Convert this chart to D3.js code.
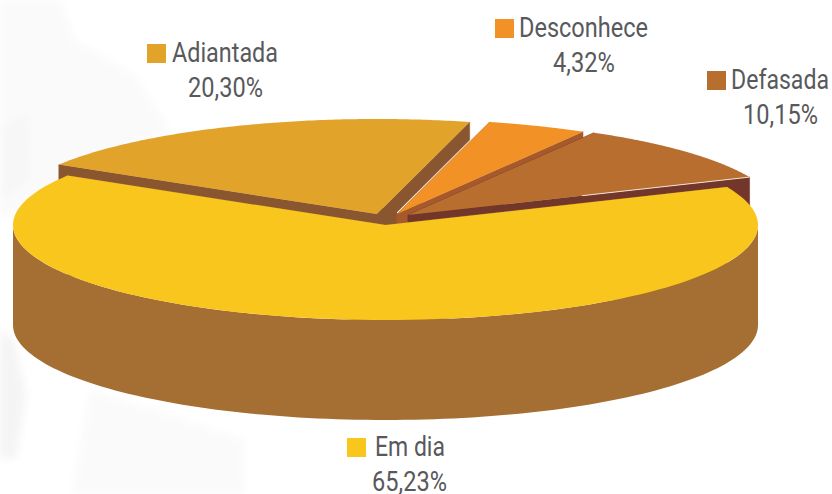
<!DOCTYPE html>
<html>
<head>
<meta charset="utf-8">
<style>
  html, body { margin: 0; padding: 0; background: #fff; }
  svg { display: block; }
  text { font-family: Roboto, sans-serif; fill: #58595b; font-size: 27px; }
</style>
<script src="https://cdn.jsdelivr.net/npm/d3@7"></script>
</head>
<body>
<script>
var categories = ['Em dia', 'Adiantada', 'Desconhece', 'Defasada'];
var values = [65.23, 20.30, 4.32, 10.15];
var valueLabels = ['65,23%', '20,30%', '4,32%', '10,15%'];

var width = 832;
var height = 494;

var topColors = ['#f9c61d', '#e2a32b', '#f29226', '#b86e2f'];
var wallColors = ['#a56f33', '#8a5630', '#a65a2c', '#72372a'];

// where each exploded slice sits, and how deep its wall is
var sliceLayout = [
  { cx: 385.5, cy: 225, depth: 100 },
  { cx: 377, cy: 214, depth: 18 },
  { cx: 397, cy: 214, depth: 13 },
  { cx: 408, cy: 215, depth: 32 }
];

// swatch left/top, label left/width, baseline of the name, percent centre
var legendLayout = [
  { sx: 347, sy: 438, tx: 375, tw: 70, base: 456, px: 409.5, pw: 75 },
  { sx: 147, sy: 44, tx: 172, tw: 106, base: 62, px: 225.5, pw: 75 },
  { sx: 495, sy: 19, tx: 519, tw: 129, base: 37, px: 584, pw: 62 },
  { sx: 707, sy: 71, tx: 731, tw: 98, base: 89, px: 780.5, pw: 75 }
];

// washed out photo behind the chart
var backdrop = [
  { fill: '#fafafa', points: [[0, 0], [60, 0], [75, 40], [135, 75], [170, 130], [60, 190], [0, 220]] },
  { fill: '#f7f7f8', points: [[0, 130], [28, 110], [30, 180], [0, 200]] },
  { fill: '#f4f4f5', points: [[0, 330], [14, 340], [26, 395], [16, 458], [0, 458]] },
  { fill: '#fafafa', points: [[72, 494], [90, 390], [170, 415], [245, 440], [245, 494]] }
];

var rx = 372.5;
var ry = 95;
var swatch = 19;
var toRad = Math.PI / 180;

var svg = d3.select('body').append('svg')
  .attr('width', width)
  .attr('height', height);

svg.append('defs').append('filter')
  .attr('id', 'soft')
  .append('feGaussianBlur')
  .attr('stdDeviation', 4);

var pie = d3.pie()
  .sort(null)
  .startAngle(66.5 * toRad)
  .endAngle((66.5 + 360) * toRad);

var arcs = pie(values);

var line = d3.line()
  .x(function(d) { return d[0]; })
  .y(function(d) { return d[1]; });

svg.append('g')
  .attr('filter', 'url(#soft)')
  .selectAll('path')
  .data(backdrop)
  .join('path')
  .attr('fill', function(d) { return d.fill; })
  .attr('d', function(d) { return line(d.points) + 'Z'; });

// point on the flattened rim, angle clockwise from the top
function rim(layout, angle, drop) {
  return [
    layout.cx + rx * Math.sin(angle),
    layout.cy - ry * Math.cos(angle) + (drop || 0)
  ];
}

function rimPoints(layout, a0, a1, drop) {
  return d3.range(0, 121).map(function(i) {
    return rim(layout, a0 + (a1 - a0) * i / 120, drop);
  });
}

var g = svg.append('g');

// the reference has no gap at the hub, the Adiantada wall runs on to the next slice
var hubLeft = sliceLayout[1];
var hubRight = sliceLayout[2];
g.append('rect')
  .attr('x', hubLeft.cx)
  .attr('y', hubLeft.cy - 6)
  .attr('width', hubRight.cx - hubLeft.cx)
  .attr('height', hubLeft.depth + 6)
  .attr('fill', wallColors[1]);

// back slices first so Em dia ends up on top
[1, 2, 3, 0].forEach(function(i) {
  var a = arcs[i];
  var layout = sliceLayout[i];
  var centre = [layout.cx, layout.cy];
  var lowCentre = [layout.cx, layout.cy + layout.depth];

  [a.startAngle, a.endAngle].forEach(function(angle) {
    g.append('path')
      .attr('fill', wallColors[i])
      .attr('stroke', wallColors[i])
      .attr('stroke-width', 0.5)
      .attr('d', line([
        centre,
        rim(layout, angle),
        rim(layout, angle, layout.depth),
        lowCentre
      ]) + 'Z');
  });

  // outer wall only for the part of the rim facing the viewer
  var front0 = Math.max(a.startAngle, 90 * toRad);
  var front1 = Math.min(a.endAngle, 270 * toRad);
  if (front1 > front0) {
    var upper = rimPoints(layout, front0, front1, 0);
    var lower = rimPoints(layout, front1, front0, layout.depth);
    g.append('path')
      .attr('fill', wallColors[i])
      .attr('d', line(upper.concat(lower)) + 'Z');
  }

  g.append('path')
    .attr('fill', topColors[i])
    .attr('d', line([centre].concat(rimPoints(layout, a.startAngle, a.endAngle, 0))) + 'Z');

  // thin light edge on the outer half of the Defasada wall
  if (categories[i] === 'Defasada') {
    var end = rim(layout, a.endAngle);
    g.append('line')
      .attr('x1', layout.cx + (end[0] - layout.cx) * 0.51)
      .attr('y1', layout.cy + (end[1] - layout.cy) * 0.51)
      .attr('x2', end[0])
      .attr('y2', end[1])
      .attr('stroke', '#f3e3d2')
      .attr('stroke-width', 1);
  }
});

var legend = svg.append('g');

// squeeze Roboto sideways to get the condensed look of the original face
function fitText(x, y, w, str) {
  var t = legend.append('text').text(str);
  var natural = t.node().getComputedTextLength();
  t.attr('transform', 'translate(' + x + ',' + y + ') scale(' + (w / natural) + ',1)');
}

categories.forEach(function(name, i) {
  var pos = legendLayout[i];

  legend.append('rect')
    .attr('x', pos.sx)
    .attr('y', pos.sy)
    .attr('width', swatch)
    .attr('height', swatch)
    .attr('fill', topColors[i]);

  fitText(pos.tx, pos.base, pos.tw, name);
  fitText(pos.px - pos.pw / 2, pos.base + 35, pos.pw, valueLabels[i]);
});
</script>
</body>
</html>
